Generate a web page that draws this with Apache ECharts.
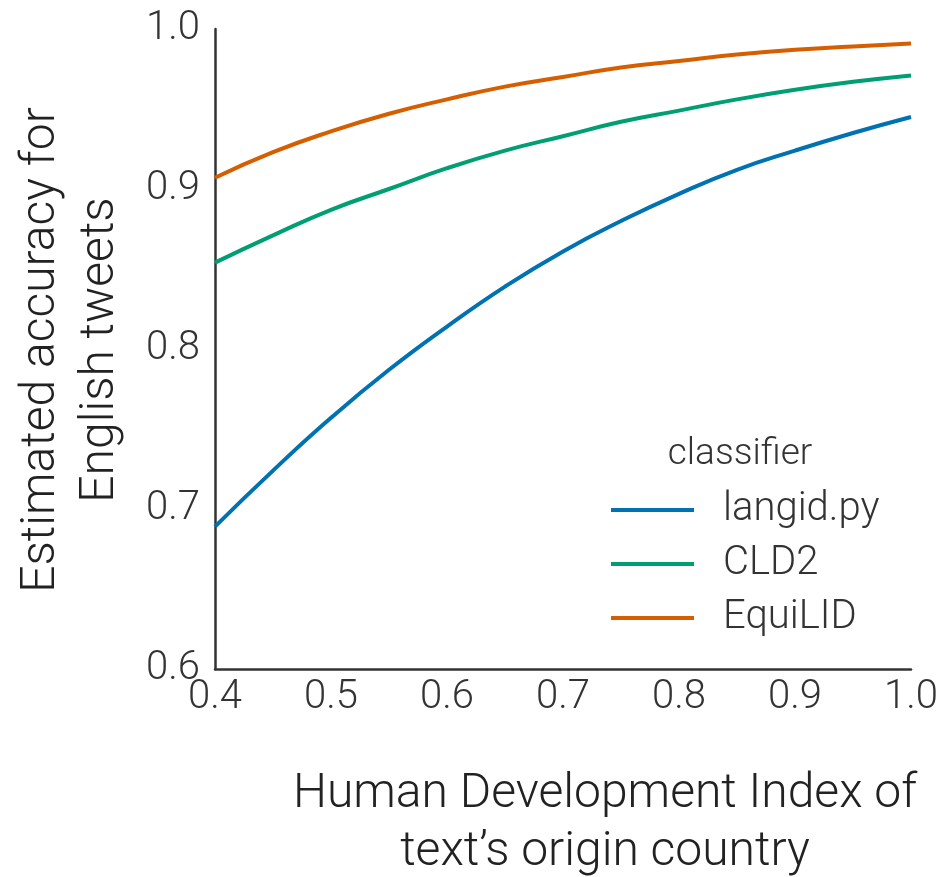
<!DOCTYPE html>
<html><head><meta charset="utf-8">
<script src="https://cdn.jsdelivr.net/npm/echarts@6/dist/echarts.min.js"></script>
<style>html,body{margin:0;padding:0;background:#fff}#c{width:943px;height:877px}</style>
</head><body><div id="c"></div>
<script>
const hdi = [0.40,0.45,0.50,0.55,0.60,0.65,0.70,0.75,0.80,0.85,0.90,0.95,1.00];
const langid = [0.689,0.724,0.757,0.787,0.814,0.839,0.861,0.880,0.897,0.912,0.924,0.935,0.945];
const cld2 = [0.854,0.871,0.887,0.900,0.913,0.924,0.933,0.942,0.949,0.956,0.962,0.967,0.971];
const equilid = [0.907,0.923,0.936,0.947,0.956,0.964,0.970,0.976,0.980,0.984,0.987,0.989,0.991];
const seriesNames = ['langid.py','CLD2','EquiLID'];
const colors = ['#0072B2','#009E73','#D55E00'];
const FONT = 'Roboto, "Liberation Sans", Arial, sans-serif';
const W = 300;

const chart = echarts.init(document.getElementById('c'));
const mk = (name, vals, color) => ({
  name, type:'line', smooth:true, showSymbol:false, symbol:'none',
  data: hdi.map((x,i)=>[x, vals[i]]),
  lineStyle:{color, width:4}, itemStyle:{color}
});
chart.setOption({
  animation:false,
  grid:{left:215, right:32, top:29, bottom:208, containLabel:false},
  xAxis:{type:'value', min:0.4, max:1.0, interval:0.1,
    axisLine:{lineStyle:{color:'#333', width:2.5}}, axisTick:{show:false}, splitLine:{show:false},
    axisLabel:{fontFamily:FONT, fontWeight:W, fontSize:40, color:'#333', margin:9, formatter:v=>v.toFixed(1)}},
  yAxis:{type:'value', min:0.6, max:1.0, interval:0.1,
    axisLine:{show:true, lineStyle:{color:'#333', width:2.5}}, axisTick:{show:false}, splitLine:{show:false},
    axisLabel:{fontFamily:FONT, fontWeight:W, fontSize:40, color:'#333', margin:15, formatter:v=>v.toFixed(1)}},
  legend:{orient:'vertical', left:606, top:485, icon:'rect', itemWidth:83, itemHeight:4,
    itemGap:14, data:seriesNames,
    textStyle:{fontFamily:FONT, fontWeight:W, fontSize:40, color:'#333', lineHeight:40, padding:[0,0,0,24]}},
  graphic:[
    {type:'text', x:740, y:455, style:{text:'classifier', font:W+' 37px '+FONT, fill:'#333', align:'center', verticalAlign:'middle'}},
    {type:'text', x:605, y:795, style:{text:'Human Development Index of', font:W+' 48px '+FONT, fill:'#222', align:'center', verticalAlign:'middle'}},
    {type:'text', x:605, y:853, style:{text:'text\u2019s origin country', font:W+' 48px '+FONT, fill:'#222', align:'center', verticalAlign:'middle'}},
    {type:'text', x:42, y:350, rotation:Math.PI/2, style:{text:'Estimated accuracy for', font:W+' 48px '+FONT, fill:'#222', align:'center', verticalAlign:'middle'}},
    {type:'text', x:101, y:350, rotation:Math.PI/2, style:{text:'English tweets', font:W+' 48px '+FONT, fill:'#222', align:'center', verticalAlign:'middle'}}
  ],
  series:[mk(seriesNames[0], langid, colors[0]), mk(seriesNames[1], cld2, colors[1]), mk(seriesNames[2], equilid, colors[2])]
});
</script></body></html>
